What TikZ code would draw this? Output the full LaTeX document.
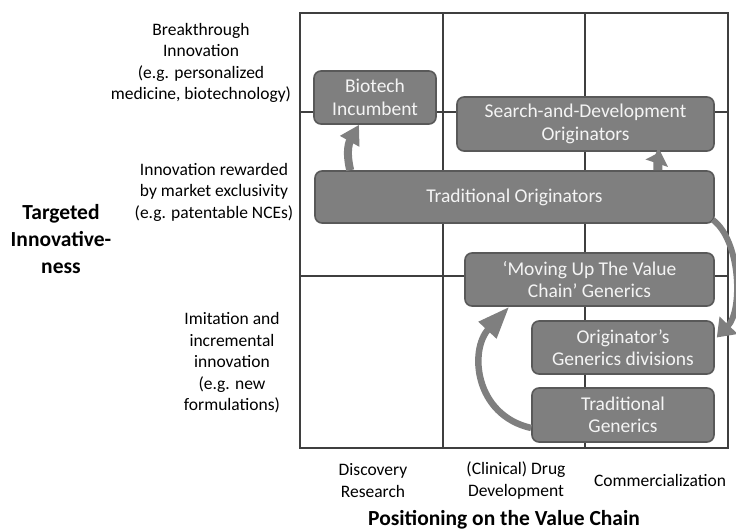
\documentclass[tikz,border=0pt]{standalone}
\usepackage{fontspec}
\setmainfont{Carlito}
\usetikzlibrary{arrows.meta,calc}
\definecolor{boxfill}{HTML}{7F7F7F}
\definecolor{boxline}{HTML}{595959}
\definecolor{gridc}{HTML}{3F3F3F}
\definecolor{boxtext}{HTML}{F4F4F4}
\tikzset{
  gridline/.style={draw=gridc,line width=1.5pt},
  player/.style={draw=boxline,fill=boxfill,line width=1.6pt,rounded corners=7pt,
    text=boxtext,align=center,inner sep=0pt,font=\fontsize{19.5}{22.5}\selectfont},
  rowlab/.style={align=center,inner sep=0pt,text=black,font=\fontsize{17.5}{21.5}\selectfont},
  axislab/.style={align=center,inner sep=0pt,text=black,font=\bfseries\fontsize{21.5}{27}\selectfont},
  movearrow/.style={draw=boxfill,line cap=butt}
}
\begin{document}
\begin{tikzpicture}[x=1pt,y=-1pt]
\useasboundingbox (0,0) rectangle (736,530);
% grid
\draw[gridline] (300,13) rectangle (728,448);
\draw[gridline] (443,13) -- (443,448);
\draw[gridline] (585,13) -- (585,448);
\draw[gridline] (300,112) -- (728,112);
\draw[gridline] (300,276) -- (728,276);
% boxes
\node[player,minimum width=122pt,minimum height=53pt] (bio) at (375,97.5) {Biotech\\Incumbent};
\node[player,minimum width=257pt,minimum height=54pt] (sd) at (585.5,124) {Search-and-Development\\Originators};
\node[player,minimum width=399pt,minimum height=52pt] (to) at (514.5,197) {Traditional Originators};
\node[player,minimum width=249pt,minimum height=53pt] (mu) at (589.5,279.5) {‘Moving Up The Value\\Chain’ Generics};
\node[player,minimum width=182pt,minimum height=53pt] (og) at (623,347.5) {Originator’s\\Generics divisions};
\node[player,minimum width=182pt,minimum height=54pt] (tg) at (623,415) {Traditional\\Generics};
% arrows
\draw[movearrow,line width=8pt,-{Triangle[length=19pt,width=21pt]}]
  ([xshift=36pt]to.north west) .. controls +(-5,-21) and +(-9,16) .. ([xshift=-16pt]bio.south);
\draw[movearrow,line width=9pt,-{Triangle[length=12pt,width=23pt]}]
  ([xshift=-57pt]to.north east) .. controls +(0,-8) and +(-2,6) .. ([xshift=75pt]sd.south);
\draw[movearrow,line width=6pt,-{Triangle[length=17pt,width=24pt]}]
  ([xshift=-2pt,yshift=4pt]to.south east) .. controls +(28,21) and +(26,-27) .. ([xshift=2pt,yshift=10pt]og.east);
\draw[movearrow,line width=6.5pt,-{Triangle[length=32pt,width=23pt]}]
  ([yshift=-13pt]tg.west) .. controls +(-57,-13) and +(-40,43) .. ([xshift=45pt]mu.south west);
% row labels
\node[rowlab] (l1) at (201,63) {Breakthrough\\Innovation\\(e.g. personalized\\medicine, biotechnology)};
\node[rowlab] (l2) at (214,192) {Innovation rewarded\\by market exclusivity\\(e.g. patentable NCEs)};
\node[rowlab] (l3) at (232,363) {Imitation and\\incremental\\innovation\\(e.g. new\\formulations)};
\node[axislab] (ya) at (61,239) {Targeted\\Innovative-\\ness};
% column labels
\node[rowlab] (c1) at (373,480.5) {Discovery\\Research};
\node[rowlab] (c2) at (516,480.5) {(Clinical) Drug\\Development};
\node[rowlab] (c3) at (660,480) {Commercialization};
\node[axislab] (xa) at (504,520) {Positioning on the Value Chain};
\end{tikzpicture}
\end{document}
